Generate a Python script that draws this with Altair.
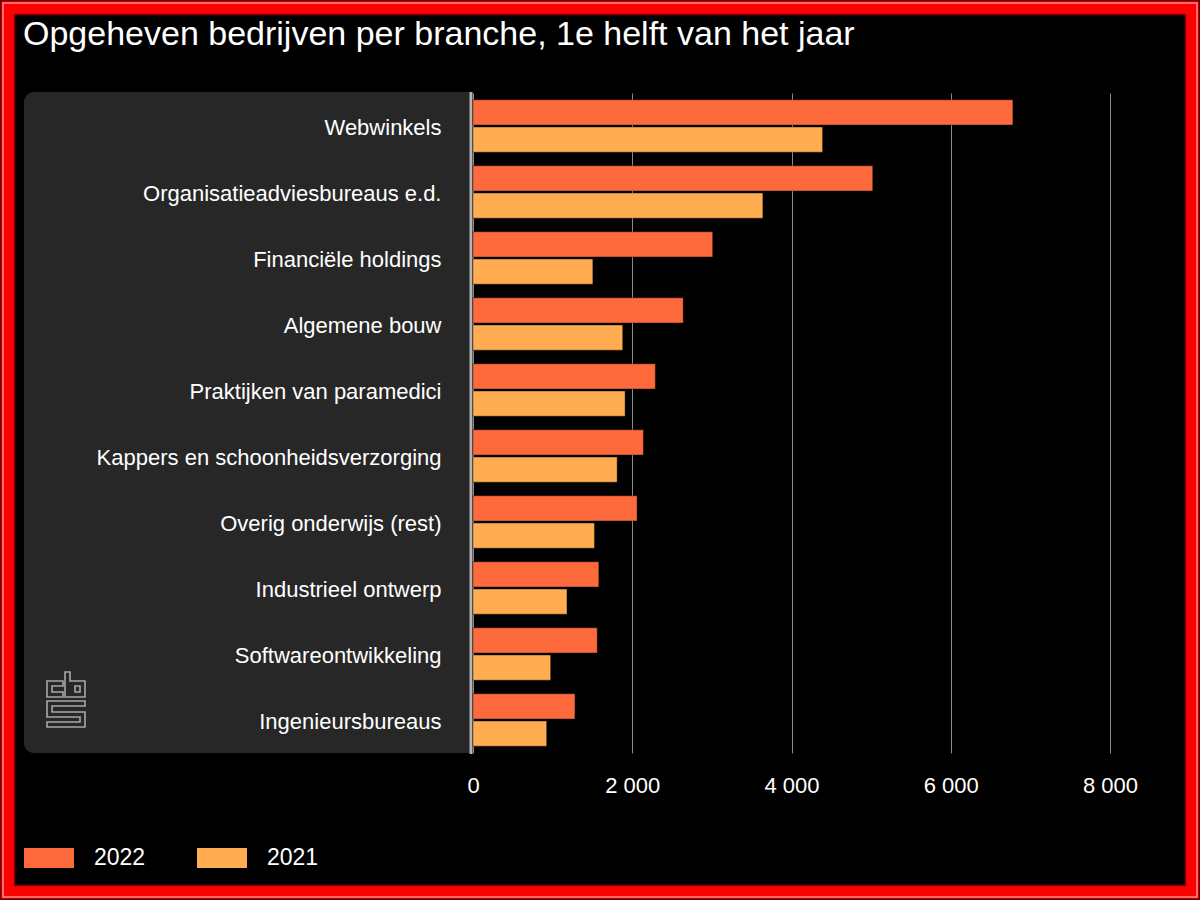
import altair as alt
import pandas as pd

categories = [
    "Webwinkels",
    "Organisatieadviesbureaus e.d.",
    "Financiële holdings",
    "Algemene bouw",
    "Praktijken van paramedici",
    "Kappers en schoonheidsverzorging",
    "Overig onderwijs (rest)",
    "Industrieel ontwerp",
    "Softwareontwikkeling",
    "Ingenieursbureaus",
]
values_2022 = [6780, 5020, 3010, 2640, 2290, 2140, 2060, 1580, 1560, 1280]
values_2021 = [4390, 3640, 1505, 1880, 1910, 1810, 1525, 1180, 975, 925]
years = ["2022", "2021"]
colors = ["#ff6a3d", "#ffad50"]
x_ticks = [0, 2000, 4000, 6000, 8000]
title_text = "Opgeheven bedrijven per branche, 1e helft van het jaar"

rows = []
for c, a, b in zip(categories, values_2022, values_2021):
    rows.append({"branche": c, "jaar": "2022", "aantal": a})
    rows.append({"branche": c, "jaar": "2021", "aantal": b})
df = pd.DataFrame(rows)

W, H = 637, 660
L, T = 473, 93
FONT = "Liberation Sans"
one = pd.DataFrame({"k": [0]})

panel = alt.Chart(one).mark_rect(
    color="#272727", cornerRadiusTopLeft=10, cornerRadiusBottomLeft=10
).encode(x=alt.value(24 - L), x2=alt.value(-2), y=alt.value(-1), y2=alt.value(H))

axis_line = alt.Chart(one).mark_rule(color="#b4b4b4", strokeWidth=3).encode(
    x=alt.value(-2), y=alt.value(-1), y2=alt.value(H + 1)
)

bars = alt.Chart(df).mark_bar(stroke="#000000", strokeOpacity=0.35, strokeWidth=1).encode(
    x=alt.X(
        "aantal:Q",
        scale=alt.Scale(domain=[0, 8000], nice=False),
        axis=alt.Axis(
            values=x_ticks,
            labelExpr="replace(format(datum.value, ','), ',', ' ')",
            title=None,
            grid=True,
            gridColor="#8a8a8a",
            gridWidth=1,
            domain=False,
            ticks=False,
            labelColor="white",
            labelFont=FONT,
            labelFontSize=22,
            labelPadding=22,
            labelFlush=False,
            labelOverlap=False,
            zindex=0,
        ),
    ),
    y=alt.Y(
        "branche:N",
        sort=categories,
        scale=alt.Scale(paddingInner=0, paddingOuter=0),
        axis=alt.Axis(
            title=None,
            domain=False,
            ticks=False,
            grid=False,
            labelColor="white",
            labelFont=FONT,
            labelFontSize=22,
            labelPadding=32,
            labelOffset=2,
            labelLimit=600,
            zindex=1,
        ),
    ),
    yOffset=alt.YOffset("jaar:N", sort=years, scale=alt.Scale(paddingInner=0.08, paddingOuter=0.25)),
    color=alt.Color(
        "jaar:N",
        sort=years,
        scale=alt.Scale(domain=years, range=colors),
        legend=alt.Legend(
            title=None,
            orient="none",
            legendX=24 - L,
            legendY=745,
            direction="horizontal",
            symbolType="M-1,-0.5H1.5V0.5H-1Z",
            symbolSize=1600,
            symbolStrokeWidth=0,
            symbolOpacity=1,
            labelColor="white",
            labelFont=FONT,
            labelFontSize=23,
            labelOffset=30,
            columnPadding=51,
            padding=0,
        ),
    ),
)

title = alt.Chart(one).mark_text(
    text=title_text, align="left", baseline="alphabetic", font=FONT, fontSize=34, color="white"
).encode(x=alt.value(-450), y=alt.value(-48))

logo_path = (
    "M16,9H0V25H16V20H5V14H16Z "
    "M18,0H23V9H38V25H18Z M28,14H33V20H28Z "
    "M38,29H0V45H33V50H0V55H38V40H5V34H38Z"
)
logo = alt.Chart(one).mark_point(
    shape=logo_path, size=4, filled=False, color="#a8a8a8", strokeWidth=1.6, opacity=1
).encode(x=alt.value(47 - L), y=alt.value(672 - T))

frame_red = alt.Chart(one).mark_rect(fill="#000000", fillOpacity=0, stroke="#ff0000", strokeWidth=30).encode(
    x=alt.value(-L), x2=alt.value(1200 - L), y=alt.value(-T), y2=alt.value(900 - T)
)
frame_outer = alt.Chart(one).mark_rect(fill="#000000", fillOpacity=0, stroke="#6a0000", strokeWidth=3).encode(
    x=alt.value(-L), x2=alt.value(1200 - L), y=alt.value(-T), y2=alt.value(900 - T)
)
frame_pink = alt.Chart(one).mark_rect(fill="#000000", fillOpacity=0, stroke="#ff8a8a", strokeWidth=1.5).encode(
    x=alt.value(-L + 3), x2=alt.value(1200 - L - 3), y=alt.value(-T + 3), y2=alt.value(900 - T - 3)
)
frame_inner = alt.Chart(one).mark_rect(fill="#000000", fillOpacity=0, stroke="#8a0000", strokeWidth=1.5).encode(
    x=alt.value(-L + 14.5), x2=alt.value(1200 - L - 14.5), y=alt.value(-T + 14.5), y2=alt.value(900 - T - 14.5)
)

chart = alt.layer(
    panel, axis_line, bars, title, logo, frame_red, frame_outer, frame_pink, frame_inner
).properties(
    width=W,
    height=H,
    padding={"left": L, "top": T, "right": 1200 - L - W, "bottom": 900 - T - H},
    autosize=alt.AutoSizeParams(type="none"),
    background="#000000",
).configure_view(strokeWidth=0)

chart.save("out.html", embed_options={"renderer": "svg", "actions": False})
